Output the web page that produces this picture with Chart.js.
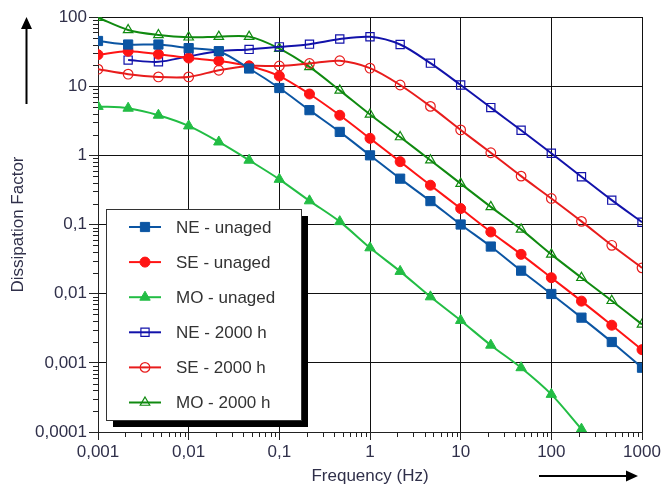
<!DOCTYPE html>
<html lang="en">
<head>
<meta charset="UTF-8">
<title>Dissipation Factor vs Frequency</title>
<script src="https://cdn.jsdelivr.net/npm/chart.js"></script>
<style>
  body { margin: 0; background: #fff; }
  canvas { display: block; }
</style>
</head>
<body>
<canvas id="chart" width="663" height="487"></canvas>
<script>
// frequencies (Hz), 3 points per decade
const freqs = [0.001, 0.00215, 0.00464, 0.01, 0.0215, 0.0464, 0.1, 0.215, 0.464, 1, 2.15, 4.64, 10, 21.5, 46.4, 100, 215, 464, 1000];

const neUnaged = [45, 40, 40, 35.5, 32, 18, 9.4, 4.5, 2.18, 1.0, 0.46, 0.218, 0.1, 0.048, 0.0215, 0.0099, 0.0045, 0.002, 0.00085];
const seUnaged = [28.5, 32, 29, 25.5, 23.2, 19.6, 14, 7.7, 3.8, 1.76, 0.81, 0.37, 0.17, 0.078, 0.037, 0.017, 0.0078, 0.0035, 0.00155];
const moUnaged = [5.1, 4.8, 3.8, 2.66, 1.56, 0.85, 0.45, 0.22, 0.11, 0.046, 0.021, 0.009, 0.0041, 0.0018, 0.00085, 0.00035, 0.00011, null, null];
const ne2000 = [null, 23.8, 22.5, 27, 32, 34, 37, 40.5, 48, 51.7, 40, 21.5, 10.4, 4.9, 2.3, 1.07, 0.49, 0.225, 0.108];
const se2000 = [17.6, 14.9, 13.6, 13.6, 17, 19.6, 19.6, 21.3, 23.3, 18.2, 10.4, 5.1, 2.33, 1.09, 0.5, 0.238, 0.111, 0.05, 0.0236];
const mo2000 = [98, 65, 55, 51, 52, 52, 35, 19, 8.7, 3.9, 1.84, 0.85, 0.39, 0.18, 0.085, 0.037, 0.017, 0.0079, 0.0036];

const xTicks = [0.001, 0.01, 0.1, 1, 10, 100, 1000];
const yTicks = [0.0001, 0.001, 0.01, 0.1, 1, 10, 100];

const FONT = "'Liberation Sans', Arial, sans-serif";
const TEXT = '#30304a';

function pts(arr) {
  return freqs.map((f, i) => ({ x: f, y: arr[i] })).filter(p => p.y != null);
}

function series(label, arr, color, style, radius, filled) {
  return {
    label: label,
    data: pts(arr),
    borderColor: color,
    backgroundColor: color,
    borderWidth: 2,
    tension: 0.3,
    pointStyle: style,
    pointRadius: radius,
    pointHoverRadius: radius,
    pointBorderColor: color,
    pointBackgroundColor: filled ? color : 'rgba(0,0,0,0)',
    pointBorderWidth: filled ? 1 : 1.2
  };
}

const fmt = v => String(v).replace('.', ',');

// arrows, minor ticks and the framed legend
const extras = {
  id: 'extras',
  afterDraw(chart) {
    const ctx = chart.ctx;
    const xs = chart.scales.x, ys = chart.scales.y;
    const area = chart.chartArea;
    ctx.save();
    ctx.strokeStyle = '#222';
    ctx.lineWidth = 1;
    // minor ticks
    ctx.beginPath();
    for (let d = -3; d < 3; d++) {
      for (let k = 2; k <= 9; k++) {
        const px = Math.round(xs.getPixelForValue(k * Math.pow(10, d))) + 0.5;
        ctx.moveTo(px, area.bottom);
        ctx.lineTo(px, area.bottom + 5);
      }
    }
    for (let d = -4; d < 2; d++) {
      for (let k = 2; k <= 9; k++) {
        const py = Math.round(ys.getPixelForValue(k * Math.pow(10, d))) + 0.5;
        ctx.moveTo(area.left - 5, py);
        ctx.lineTo(area.left, py);
      }
    }
    ctx.stroke();

    // arrows
    ctx.fillStyle = '#000';
    ctx.strokeStyle = '#000';
    ctx.lineWidth = 2;
    ctx.beginPath();
    ctx.moveTo(26.5, 104); ctx.lineTo(26.5, 27);
    ctx.moveTo(539, 476); ctx.lineTo(628, 476);
    ctx.stroke();
    ctx.beginPath();
    ctx.moveTo(26.5, 17); ctx.lineTo(21, 29); ctx.lineTo(32, 29); ctx.closePath();
    ctx.moveTo(638, 476); ctx.lineTo(626, 470.5); ctx.lineTo(626, 481.5); ctx.closePath();
    ctx.fill();

    // legend box with shadow
    const bx = 106, by = 209, bw = 195, bh = 211;
    ctx.fillStyle = '#000';
    ctx.fillRect(bx + 7, by + 7, bw, bh);
    ctx.fillStyle = '#fff';
    ctx.fillRect(bx, by, bw, bh);
    ctx.lineWidth = 1;
    ctx.strokeStyle = '#333';
    ctx.strokeRect(bx + 0.5, by + 0.5, bw, bh);

    ctx.font = '17px ' + FONT;
    ctx.textBaseline = 'middle';
    ctx.textAlign = 'left';
    chart.data.datasets.forEach((ds, i) => {
      const y = 227 + i * 35.1;
      ctx.strokeStyle = ds.borderColor;
      ctx.lineWidth = 2;
      ctx.beginPath();
      ctx.moveTo(129, y); ctx.lineTo(161, y);
      ctx.stroke();
      ctx.fillStyle = ds.pointBackgroundColor;
      ctx.strokeStyle = ds.pointBorderColor;
      ctx.lineWidth = ds.pointBorderWidth;
      Chart.helpers.drawPoint(ctx, { pointStyle: ds.pointStyle, radius: ds.pointRadius, rotation: 0, borderWidth: ds.pointBorderWidth }, 145, y);
      ctx.fillStyle = '#333';
      ctx.fillText(ds.label, 176, y + 1);
    });
    ctx.restore();
  }
};

new Chart(document.getElementById('chart'), {
  type: 'line',
  data: {
    datasets: [
      series('NE - unaged', neUnaged, '#0b55a3', 'rect', 6.5, true),
      series('SE - unaged', seUnaged, '#ff1414', 'circle', 5, true),
      series('MO - unaged', moUnaged, '#22bd44', 'triangle', 6, true),
      series('NE - 2000 h', ne2000, '#1212aa', 'rect', 5.8, false),
      series('SE - 2000 h', se2000, '#e81c1c', 'circle', 4.8, false),
      series('MO - 2000 h', mo2000, '#108a10', 'triangle', 5.5, false)
    ]
  },
  options: {
    responsive: false,
    animation: false,
    events: [],
    layout: { padding: { top: 17, right: 21, left: 0, bottom: 0 } },
    plugins: { legend: { display: false }, tooltip: { enabled: false } },
    scales: {
      x: {
        type: 'logarithmic',
        min: 0.001,
        max: 1000,
        afterBuildTicks: s => { s.ticks = xTicks.map(v => ({ value: v, major: true })); },
        afterFit: s => { s.height = 55; },
        border: { color: '#222', width: 1 },
        grid: { color: '#111', lineWidth: 1, tickLength: 8, tickColor: '#222' },
        ticks: { color: TEXT, font: { family: FONT, size: 17 }, padding: 2, maxRotation: 0, autoSkip: false, callback: v => fmt(v) },
        title: { display: true, text: 'Frequency (Hz)', color: TEXT, font: { family: FONT, size: 17 }, padding: { top: 7, bottom: 0 } }
      },
      y: {
        type: 'logarithmic',
        min: 0.0001,
        max: 100,
        afterBuildTicks: s => { s.ticks = yTicks.map(v => ({ value: v, major: true })); },
        afterFit: s => { s.width = 98; },
        border: { color: '#222', width: 1 },
        grid: { color: '#111', lineWidth: 1, tickLength: 9, tickColor: '#222' },
        ticks: { color: TEXT, font: { family: FONT, size: 17 }, padding: 2, autoSkip: false, callback: v => fmt(v) },
        title: { display: true, text: 'Dissipation Factor', color: TEXT, font: { family: FONT, size: 17 }, padding: { top: 8, bottom: 0 } }
      }
    }
  },
  plugins: [extras]
});
</script>
</body>
</html>
